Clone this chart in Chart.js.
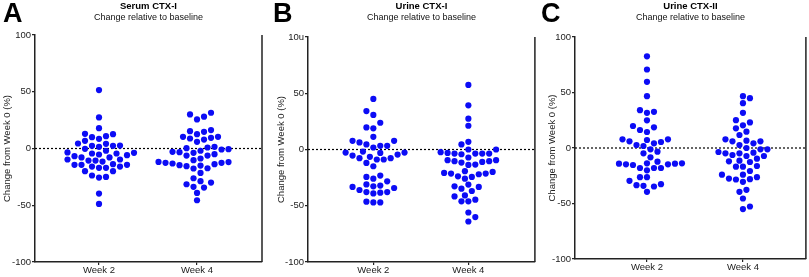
<!DOCTYPE html>
<html>
<head>
<meta charset="utf-8">
<script src="https://cdn.jsdelivr.net/npm/chart.js@4.4.0/dist/chart.umd.min.js"></script>
<style>
  body { margin: 0; background: #fff; }
  .panel { position: absolute; top: 0; height: 277px; }
</style>
</head>
<body>
<div class="panel" style="left:0;width:270px"><canvas id="panelA" width="270" height="277"></canvas></div>
<div class="panel" style="left:270px;width:268px"><canvas id="panelB" width="268" height="277"></canvas></div>
<div class="panel" style="left:538px;width:271px"><canvas id="panelC" width="271" height="277"></canvas></div>
<script>
// values (% change from week 0), one entry per subject
var groups = ["Week 2", "Week 4"];
var yTicks = [-100, -50, 0, 50, 100];

var serumWeek2 = [51.5, 27.4, 17.9, 12.6, 10, 8.5, 10.9, 12.9, 6.8, 4.4, 2.6, 2.4, 2.4, 4.1, 1.5, -0.3,
  -3.5, -4.4, -4.4, -3.8, -2, -5.9, -7.9, -9.7, -10.6, -11.5, -10.6, -9.7, -7.9, -6.8, -5.3,
  -13.8, -14.4, -15.9, -17, -17, -15.9, -14.4, -14.4, -20, -20, -23.8, -25.6, -25, -39.7, -48.8];
var serumWeek4 = [31.5, 28, 25.6, 30, 15.3, 12.6, 10.3, 9.4, 7.9, 14.7, 16.2, 5.9, 8.8, 10.3, 1.5, 0.9,
  -0.6, -3.2, -2, -2.9, -6.2, -5, -0.9, 0.3, -3.8, -8.8, -6.2, -11.8, -12.6, -13.2, -14.7, -15.6,
  -15, -13.8, -12.6, -12, -10.3, -17.6, -21.5, -17.4, -26.2, -28.8, -31.5, -30, -34.4, -33.8, -39.1, -45.6];

var urine1Week2 = [45, 34.2, 30.7, 23.8, 18.8, 19.6, 11.3, 6.3, 7.7, 7.7, 3.3, 1.8, 3.3, 4.5, -2.7, -3,
  -5.4, -8.9, -7.7, -7.7, -6.5, -8.9, -4.5, -2.7, -1.8, -14.9, -11.9, -24.4, -25.9, -23.2, -28.3,
  -34.2, -31, -32.7, -32.1, -33.3, -37.8, -38.4, -39, -37.8, -36, -46.4, -47, -47];
var urine1Week4 = [57.4, 39.3, 27.4, 21.1, 6.8, 4.5, 0, 0, -7.1, -3, -3.6, -3.6, -4.2, -3.6, -3.6, -2.4,
  -9.5, -11, -13.7, -11.6, -13.4, -10.4, -10.4, -9.5, -20.8, -21.4, -23.8, -25.9, -19.3, -24.4, -22,
  -21.4, -19.9, -32.7, -34.8, -36.9, -33.3, -31.2, -40.8, -44.6, -46.1, -46.1, -41.7, -56, -60.1, -64];

var urine2Week2 = [82.6, 70.7, 59.6, 46.7, 32.6, 31.7, 34.1, 24.9, 19.8, 16.2, 14.4, 18.6, 7.2, 5.4, 7.8,
  2.7, 7.8, 1.8, 4.2, 6, -1.2, -4.8, -3.3, -8.4, -13.8, -14.7, -15.3, -12.3, -13.8, -18, -18, -20.1,
  -18, -14.7, -14.1, -14.1, -26.3, -26.3, -29.6, -34.1, -34.7, -32.6, -33.5, -39.5];
var urine2Week4 = [46.7, 44.9, 40.4, 31.7, 25.1, 23, 20.4, 17.7, 14.7, 11.7, 6.6, 6, 2.7, 4.2, 6, 7.8,
  -1.2, -3.6, -1.2, 0, -4.8, -7.2, -4.2, -7.2, -6.3, -4.8, -11.4, -12.6, -9.6, -12, -20.7, -16.8,
  -16.8, -16.2, -27.5, -28.4, -30.5, -24, -28.1, -24, -26.3, -39.5, -37.7, -45.5, -55, -52.7];

var tickLabelsA = ["-100", "-50", "0", "50", "100"];
var tickLabelsB = ["-100", "-50", "0", "50", "10u"];
var tickLabelsC = ["-100", "-50", "0", "50", "100"];

var dotColor = "rgb(12,12,245)";
var font = "'Liberation Sans', Arial, sans-serif";

// spread points sideways so they don't overlap (beeswarm, like a Prism dot plot)
function swarm(values, center, pxX, pxY) {
  var dot = 7, step = dot / 2;
  var placed = [];
  var sorted = values.slice().sort(function (a, b) { return a - b; });
  var side = 1;
  sorted.forEach(function (v) {
    var y = v * pxY;
    for (var k = 0; k < 60; k++) {
      var cands = k === 0 ? [0] : [side * k * step, -side * k * step];
      var ok = null;
      for (var c = 0; c < cands.length; c++) {
        var free = placed.every(function (p) {
          return Math.hypot(p.x - cands[c], p.y - y) >= dot * 0.97;
        });
        if (free) { ok = cands[c]; break; }
      }
      if (ok !== null) {
        placed.push({ x: ok, y: y, v: v });
        if (ok !== 0) side = -side;
        break;
      }
    }
  });
  return placed.map(function (p) { return { x: center + p.x / pxX, y: p.v }; });
}

var panelDecor = {
  id: "panelDecor",
  beforeDatasetsDraw: function (chart) {
    var ctx = chart.ctx, a = chart.chartArea;
    var y0 = chart.scales.y.getPixelForValue(0);
    ctx.save();
    ctx.strokeStyle = "#000";
    ctx.lineWidth = 1.2;
    ctx.setLineDash([2, 2]);
    ctx.beginPath();
    ctx.moveTo(a.left, y0);
    ctx.lineTo(a.right, y0);
    ctx.stroke();
    ctx.restore();
  },
  afterDraw: function (chart) {
    var ctx = chart.ctx, a = chart.chartArea;
    var o = chart.options.plugins.panelDecor;
    ctx.save();
    // right frame line
    ctx.strokeStyle = "#222";
    ctx.lineWidth = 1.5;
    ctx.beginPath();
    ctx.moveTo(a.right, a.top);
    ctx.lineTo(a.right, a.bottom);
    ctx.stroke();
    ctx.fillStyle = "#000";
    ctx.textBaseline = "top";
    ctx.textAlign = "left";
    ctx.font = "bold 27px " + font;
    ctx.fillText(o.letter, 3, 1);
    var cx = (a.left + a.right) / 2;
    ctx.textAlign = "center";
    ctx.textBaseline = "middle";
    ctx.font = "bold 9.5px " + font;
    ctx.fillText(o.title, cx, 6.5);
    ctx.font = "9px " + font;
    ctx.fillStyle = "#111";
    ctx.fillText("Change relative to baseline", cx, 17.5);
    ctx.restore();
  }
};

function makePanel(id, letter, title, week2, week4, tickLabels, box) {
  var pxX = box.pxX, pxY = (box.bottom - box.top) / 200;
  var canvas = document.getElementById(id);
  var w = canvas.width, h = canvas.height;
  var pts = swarm(week2, 1, pxX, pxY).concat(swarm(week4, 2, pxX, pxY));
  return new Chart(canvas, {
    type: "scatter",
    data: {
      datasets: [{
        data: pts,
        backgroundColor: dotColor,
        borderWidth: 0,
        pointRadius: 3.1,
        pointHoverRadius: 3.1
      }]
    },
    options: {
      responsive: false,
      animation: false,
      events: [],
      layout: { padding: { left: box.padLeft, right: w - box.right, top: box.top, bottom: 0 } },
      plugins: {
        legend: { display: false },
        tooltip: { enabled: false },
        panelDecor: { letter: letter, title: title }
      },
      scales: {
        x: {
          type: "linear",
          min: box.xmin,
          max: box.xmax,
          afterBuildTicks: function (s) { s.ticks = [{ value: 1 }, { value: 2 }]; },
          afterFit: function (s) { s.height = h - box.bottom; },
          ticks: {
            callback: function (v) { return groups[v - 1]; },
            font: { family: font, size: 9.5 },
            color: "#222",
            padding: 0,
            maxRotation: 0,
            autoSkip: false
          },
          grid: { drawOnChartArea: false, drawTicks: true, tickLength: 3, color: "#222", lineWidth: 1.2 },
          border: { display: true, color: "#222", width: 1.5 }
        },
        y: {
          min: -100,
          max: 100,
          afterBuildTicks: function (s) { s.ticks = yTicks.map(function (v) { return { value: v }; }); },
          afterFit: function (s) { s.width = box.left - box.padLeft; },
          ticks: {
            callback: function (v) { return tickLabels[yTicks.indexOf(v)]; },
            font: { family: font, size: 9.5 },
            color: "#222",
            padding: 1
          },
          title: {
            display: true,
            text: "Change from Week 0 (%)",
            font: { family: font, size: 9.5 },
            color: "#222",
            padding: { top: 0, bottom: 0 }
          },
          grid: { drawOnChartArea: false, drawTicks: true, tickLength: 3, color: "#222", lineWidth: 1.2 },
          border: { display: true, color: "#222", width: 1.5 }
        }
      }
    },
    plugins: [panelDecor]
  });
}

window.onload = function () {
  makePanel("panelA", "A", "Serum CTX-I", serumWeek2, serumWeek4, tickLabelsA,
    { left: 35, right: 262, top: 35, bottom: 262, padLeft: 2, xmin: 0.347, xmax: 2.663, pxX: 98 });
  makePanel("panelB", "B", "Urine CTX-I", urine1Week2, urine1Week4, tickLabelsB,
    { left: 38, right: 267, top: 37, bottom: 262, padLeft: 6, xmin: 0.3125, xmax: 2.70, pxX: 96 });
  makePanel("panelC", "C", "Urine CTX-II", urine2Week2, urine2Week4, tickLabelsC,
    { left: 37, right: 268, top: 37, bottom: 259, padLeft: 9, xmin: 0.25, xmax: 2.656, pxX: 96 });
};
</script>
</body>
</html>
